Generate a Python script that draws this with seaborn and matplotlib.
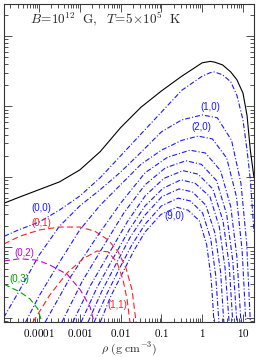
import numpy as np
import pandas as pd
import seaborn as sns
import matplotlib.pyplot as plt
from matplotlib.ticker import LogLocator, FixedLocator, FixedFormatter, NullFormatter

# values, stored as log10(rho / g cm^-3) and log10(emissivity, arb. units)

# total
lg_rho_tot = [-4.85, -4.5, -4.0, -3.5, -3.0, -2.5, -2.0, -1.5, -1.0, -0.5, 0.0, 0.2, 0.3, 0.5, 0.7, 0.85, 1.0, 1.1, 1.18, 1.27]
lg_j_tot = [1.63, 1.71, 1.82, 1.93, 2.10, 2.36, 2.70, 2.99, 3.22, 3.43, 3.62, 3.64, 3.63, 3.59, 3.49, 3.38, 3.19, 2.87, 2.38, 1.99]

# (n,0) components
lg_rho_00 = lg_rho_tot
lg_j_00 = [1.16, 1.25, 1.36, 1.53, 1.73, 1.99, 2.30, 2.61, 2.92, 3.23, 3.43, 3.48, 3.49, 3.45, 3.35, 3.16, 2.81, 2.38, 1.96, 1.22]

lg_rho_10 = [-4.86, -4.5, -4.0, -3.5, -3.0, -2.5, -2.0, -1.5, -1.0, -0.5, 0.0, 0.37, 0.72, 0.95, 1.09, 1.18]
lg_j_10 = [0.01, 0.37, 0.89, 1.30, 1.59, 1.82, 2.07, 2.35, 2.64, 2.81, 2.88, 2.84, 2.52, 1.91, 1.06, -0.06]

lg_rho_20 = [-4.33, -4.0, -3.5, -3.0, -2.5, -2.0, -1.5, -1.0, -0.5, -0.10, 0.25, 0.60, 0.84, 0.98, 1.07]
lg_j_20 = [-0.06, 0.31, 0.79, 1.25, 1.60, 1.89, 2.18, 2.38, 2.52, 2.58, 2.54, 2.27, 1.72, 0.95, -0.06]

lg_rho_30 = [-3.85, -3.24, -2.63, -2.01, -1.40, -0.85, -0.30, 0.08, 0.45, 0.70, 0.85, 0.95]
lg_j_30 = [-0.06, 0.57, 1.11, 1.62, 2.06, 2.28, 2.38, 2.34, 2.09, 1.58, 0.87, -0.06]

lg_rho_40 = [-3.44, -2.95, -2.42, -1.92, -1.40, -0.90, -0.40, -0.02, 0.35, 0.60, 0.75, 0.85]
lg_j_40 = [-0.06, 0.51, 1.02, 1.49, 1.89, 2.13, 2.23, 2.18, 1.95, 1.47, 0.81, -0.06]

lg_rho_50 = [-3.17, -2.73, -2.28, -1.84, -1.40, -0.94, -0.47, -0.10, 0.26, 0.51, 0.66, 0.75]
lg_j_50 = [-0.06, 0.47, 0.92, 1.36, 1.73, 1.98, 2.09, 2.04, 1.83, 1.38, 0.76, -0.06]

lg_rho_60 = [-2.97, -2.58, -2.19, -1.79, -1.40, -0.96, -0.52, -0.17, 0.19, 0.42, 0.56, 0.66]
lg_j_60 = [-0.06, 0.43, 0.84, 1.25, 1.59, 1.84, 1.96, 1.91, 1.72, 1.29, 0.71, -0.06]

lg_rho_70 = [-2.80, -2.46, -2.10, -1.75, -1.40, -0.99, -0.57, -0.24, 0.09, 0.31, 0.45, 0.53]
lg_j_70 = [-0.06, 0.38, 0.78, 1.16, 1.46, 1.72, 1.83, 1.79, 1.60, 1.21, 0.66, -0.06]

lg_rho_80 = [-2.65, -2.33, -2.03, -1.72, -1.40, -1.00, -0.59, -0.29, 0.01, 0.21, 0.33, 0.41]
lg_j_80 = [-0.06, 0.35, 0.70, 1.04, 1.33, 1.59, 1.70, 1.66, 1.49, 1.12, 0.61, -0.06]

lg_rho_90 = [-2.50, -2.24, -1.95, -1.67, -1.40, -1.01, -0.62, -0.35, -0.07, 0.11, 0.22, 0.29]
lg_j_90 = [-0.06, 0.31, 0.64, 0.96, 1.22, 1.47, 1.57, 1.53, 1.38, 1.04, 0.56, -0.06]

# (n,1), (0,2), (0,3) components
lg_rho_01 = [-4.86, -4.47, -3.98, -3.49, -2.99, -2.63, -2.31, -2.06, -1.87, -1.72, -1.62]
lg_j_01 = [1.05, 1.16, 1.25, 1.29, 1.29, 1.23, 1.11, 0.94, 0.71, 0.40, -0.06]

lg_rho_11 = [-4.15, -3.73, -3.31, -2.92, -2.58, -2.31, -2.09, -1.94, -1.84, -1.77]
lg_j_11 = [-0.06, 0.33, 0.64, 0.84, 0.95, 0.94, 0.79, 0.54, 0.26, -0.06]

lg_rho_02 = [-4.86, -4.47, -4.03, -3.73, -3.31, -2.99, -2.75, -2.65]
lg_j_02 = [0.81, 0.84, 0.82, 0.75, 0.62, 0.40, 0.16, -0.06]

lg_rho_03 = [-4.86, -4.47, -4.22, -4.03, -3.93]
lg_j_03 = [0.48, 0.37, 0.27, 0.13, -0.06]

# axis ticks
x_ticks = [1e-4, 1e-3, 1e-2, 1e-1, 1, 10]
x_tick_labels = ["$0.0001$", "$0.001$", "$0.01$", "$0.1$", "$1$", "$10$"]

BLUE = "#1a1aff"
RED = "#ff2020"
MAG = "#cc00cc"
GREEN = "#00a000"
DASHDOT = (0, (4.5, 1.8, 1, 1.8))
DASHED = (0, (5.5, 3))

curves = [
    (lg_rho_tot, lg_j_tot, "black", "-"),
    (lg_rho_00, lg_j_00, BLUE, DASHDOT),
    (lg_rho_10, lg_j_10, BLUE, DASHDOT),
    (lg_rho_20, lg_j_20, BLUE, DASHDOT),
    (lg_rho_30, lg_j_30, BLUE, DASHDOT),
    (lg_rho_40, lg_j_40, BLUE, DASHDOT),
    (lg_rho_50, lg_j_50, BLUE, DASHDOT),
    (lg_rho_60, lg_j_60, BLUE, DASHDOT),
    (lg_rho_70, lg_j_70, BLUE, DASHDOT),
    (lg_rho_80, lg_j_80, BLUE, DASHDOT),
    (lg_rho_90, lg_j_90, BLUE, DASHDOT),
    (lg_rho_01, lg_j_01, RED, DASHED),
    (lg_rho_11, lg_j_11, RED, DASHED),
    (lg_rho_02, lg_j_02, MAG, DASHED),
    (lg_rho_03, lg_j_03, GREEN, DASHED),
]

# curve labels: text, log rho, log j, colour
labels = [
    ("(0,0)", -3.94, 1.56, BLUE),
    ("(0,1)", -3.94, 1.35, RED),
    ("(0,2)", -4.37, 0.92, MAG),
    ("(0,3)", -4.49, 0.55, GREEN),
    ("(1,0)", 0.19, 2.99, BLUE),
    ("(2,0)", -0.03, 2.71, BLUE),
    ("(9,0)", -0.69, 1.45, BLUE),
    ("(1,1)", -2.09, 0.18, RED),
]

sns.set_style("ticks")
plt.rcParams["font.family"] = ["DejaVu Serif"]
plt.rcParams["mathtext.fontset"] = "cm"

fig = plt.figure(figsize=(2.56, 3.57), dpi=100, facecolor="white")
ax = fig.add_axes([4 / 256, 35 / 357, 250 / 256, 318 / 357])

# draw all curves
for lr, lj, color, ls in curves:
    df = pd.DataFrame({"rho": 10 ** np.array(lr), "j": 10 ** np.array(lj)})
    sns.lineplot(data=df, x="rho", y="j", color=color, linewidth=0.8,
                 linestyle=ls, sort=False, estimator=None, ax=ax)

ax.set_xscale("log")
ax.set_yscale("log")
ax.set_xlim(10 ** -4.858, 10 ** 1.27)
ax.set_ylim(10 ** -0.057, 10 ** 4.454)

# curve labels
for s, lr, lj, color in labels:
    ax.text(10 ** lr, 10 ** lj, s, color=color, fontsize=7, ha="center", va="center",
            family=["Liberation Sans", "DejaVu Sans"])

# header text
ax.text(0.104, 0.953, r"$B\!=\!10^{12}\ \ \mathrm{G},\ \ T\!=\!5\!\times\!10^{5}\ \ \mathrm{K}$",
        transform=ax.transAxes, fontsize=9.5, ha="left", va="center")

# ticks
ax.xaxis.set_major_locator(FixedLocator(x_ticks))
ax.xaxis.set_major_formatter(FixedFormatter(x_tick_labels))
ax.xaxis.set_minor_locator(LogLocator(base=10, subs=np.arange(2, 10), numticks=20))
ax.xaxis.set_minor_formatter(NullFormatter())
ax.yaxis.set_major_locator(LogLocator(base=10, numticks=20))
ax.yaxis.set_minor_locator(LogLocator(base=10, subs=np.arange(2, 10), numticks=20))
ax.yaxis.set_major_formatter(NullFormatter())
ax.yaxis.set_minor_formatter(NullFormatter())
ax.tick_params(which="both", direction="in", top=True, right=True, width=0.6, colors="#333333",
               labelcolor="black", labelsize=8, pad=3.5)
ax.tick_params(which="major", length=5.5)
ax.tick_params(which="minor", length=3)
for sp in ax.spines.values():
    sp.set_linewidth(0.8)
    sp.set_color("#333333")

ax.set_xlabel(r"$\rho\ \mathrm{(g\ cm^{-3})}$", fontsize=8.5, va="center")
ax.xaxis.set_label_coords(0.5, -0.085)
ax.set_ylabel("")

plt.savefig("out.png", dpi=100, facecolor="white")
plt.close("all")
